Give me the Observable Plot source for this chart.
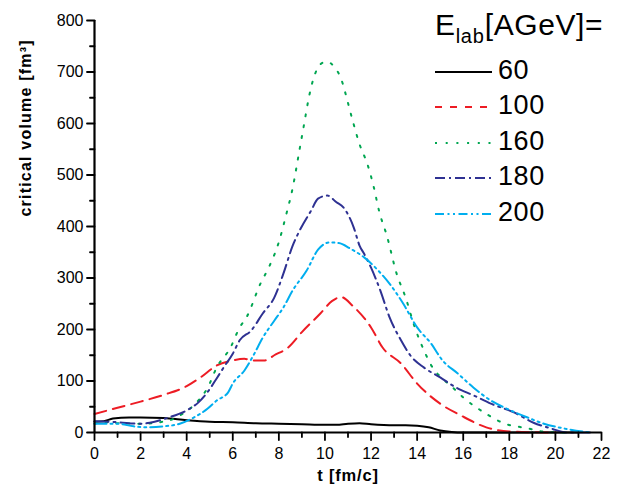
<!DOCTYPE html>
<html>
<head>
<meta charset="utf-8">
<script src="https://cdn.jsdelivr.net/npm/d3@7"></script>
<script src="https://cdn.jsdelivr.net/npm/@observablehq/plot@0.6"></script>
<style>
  html, body { margin: 0; padding: 0; background: #fff; }
  #wrap { position: relative; width: 626px; height: 494px; font-family: "Liberation Sans", Arial, sans-serif; }
  #legend { position: absolute; left: 435px; top: 0; }
  #legend .title { position: absolute; left: 0px; top: 9px; font-size: 30px; line-height: 31px; letter-spacing: 0.6px; white-space: nowrap; color: #000; }
  #legend .title sub { font-size: 20px; position: relative; top: 8px; vertical-align: baseline; line-height: 0; letter-spacing: 0.8px; }
  #legend .item { position: absolute; left: 0; height: 30px; white-space: nowrap; }
  #legend .item svg { position: absolute; left: 0; top: 0; }
  #legend .item span { position: absolute; left: 63px; top: -1px; font-size: 27px; line-height: 28px; letter-spacing: 0.6px; color: #000; }
</style>
</head>
<body>
<div id="wrap"></div>
<script>
// ---- data ----
const energies = ["60", "100", "160", "180", "200"];
const colors = ["#000000", "#ed1c24", "#00a651", "#2e3192", "#00aeef"];
const plotDashes = ["none", "12,7", "2,9", "14,5,2,5", "12,4,2,4,2,4"];
const legendDashes = ["none", "7,8", "2,8.7", "10,4,2,4", "9,3.5,2,3.5,2,3.5"];
const xTicks = [0, 2, 4, 6, 8, 10, 12, 14, 16, 18, 20, 22];
const yTicks = [0, 100, 200, 300, 400, 500, 600, 700, 800];
const xLabel = "t [fm/c]";
const yLabel = "critical volume [fm³]";

const t60 = [0, 0.4, 0.8, 1.5, 2, 3, 4, 5, 6, 7, 8, 9, 10, 10.5, 11, 11.5, 12, 13, 13.5, 14, 14.5, 15, 15.5, 16, 21];
const v60 = [21, 22, 27, 29, 29, 28, 24, 21, 20, 18, 17, 16, 15, 15, 17, 18, 16, 14, 14, 13, 10, 4, 1, 0, 0];

const t100 = [0, 1, 2, 3, 4, 4.6, 5.3, 6, 6.5, 6.9, 7.4, 7.8, 8.4, 9, 9.8, 10.3, 10.7, 11.2, 12, 12.5, 13.3, 14, 15, 15.9, 17, 18, 19, 20];
const v100 = [36, 48, 60, 73, 90, 107, 130, 140, 143, 140, 140, 150, 165, 195, 231, 255, 263, 246, 204, 165, 134, 95, 56, 33, 10, 2, 0.5, 0];

const t160 = [0, 0.5, 1, 2, 3.2, 3.7, 4.5, 4.9, 5.3, 5.9, 6.3, 6.6, 7.2, 7.6, 8.0, 8.3, 8.6, 8.9, 9.1, 9.3, 9.5, 9.7, 9.9, 10.1, 10.4, 10.7, 10.97, 11.2, 11.5, 11.85, 12.1, 12.35, 12.7, 13.1, 13.5, 13.9, 14.3, 14.7, 15.1, 15.6, 16, 16.9, 17.7, 18.8, 19.6, 20.5];
const v160 = [17, 20, 18, 17, 23, 33, 62, 86, 126, 165, 204, 224, 289, 324, 370, 420, 475, 550, 600, 650, 687, 709, 718, 720, 710, 687, 645, 606, 560, 520, 480, 430, 380, 310, 262, 204, 159, 124, 105, 85, 68, 39, 19, 8, 1, 0];

const t180 = [0, 1, 2, 2.4, 3.2, 4.0, 4.5, 4.9, 5.3, 5.6, 6.0, 6.3, 6.8, 7.3, 7.8, 8.2, 8.6, 8.9, 9.4, 9.7, 10.1, 10.5, 10.8, 11.25, 11.5, 11.7, 12.0, 12.4, 12.8, 13.3, 13.7, 14.3, 15, 15.7, 16.45, 17.2, 18.2, 19.05, 19.8, 20.5, 21.5];
const v180 = [22, 20, 17, 19, 29, 43, 58, 78, 105, 126, 153, 179, 198, 231, 262, 309, 363, 392, 431, 454, 460, 447, 437, 398, 363, 347, 320, 276, 224, 179, 150, 126, 107, 87, 72, 56, 39, 19, 8, 0, 0];

const t200 = [0, 1, 1.7, 2.3, 3, 3.7, 4.3, 4.9, 5.3, 5.8, 6.0, 6.5, 6.9, 7.3, 7.8, 8.2, 8.6, 9.2, 9.7, 10.2, 10.6, 11.1, 11.7, 12.3, 12.8, 13.4, 14, 14.6, 15.1, 15.75, 16.45, 17.2, 17.9, 18.8, 19.5, 20.35, 21.5];
const v200 = [17, 17, 12, 10, 12, 17, 29, 46, 62, 78, 95, 120, 150, 184, 217, 243, 276, 314, 355, 369, 368, 357, 340, 315, 289, 250, 204, 173, 140, 115, 87, 62, 46, 29, 17, 8, 0];

const seriesT = [t60, t100, t160, t180, t200];
const seriesV = [v60, v100, v160, v180, v200];

const rows = seriesT.flatMap((ts, i) => ts.map((t, j) => ({t, v: seriesV[i][j], e: energies[i]})));

const xMinor = d3.range(1, 22, 2);
const yMinor = d3.range(50, 800, 100);

const lineMarks = energies.map((e, i) =>
  Plot.line(rows.filter(d => d.e === e), {
    x: "t", y: "v", stroke: colors[i], strokeWidth: 2,
    strokeDasharray: plotDashes[i], curve: "monotone-x"
  })
);

// tick shape: a straight segment of given length
const spike = {draw(context, l) { context.moveTo(0, 0); context.lineTo(0, -l); }};
const tickV = (data, len, opts) => Plot.vector(data, {
  length: len, anchor: "start", shape: spike, stroke: "#000", strokeWidth: 1.8, ...opts
});

const chart = Plot.plot({
  width: 626, height: 494,
  marginLeft: 94, marginRight: 25, marginTop: 20, marginBottom: 62,
  style: {fontFamily: "'Liberation Sans', Arial, sans-serif", fontSize: "16px", color: "#000", background: "#fff", overflow: "visible"},
  x: {domain: [0, 22]},
  y: {domain: [0, 800]},
  marks: [
    ...lineMarks,
    // ticks (outward)
    tickV(xTicks, 7.5, {x: d => d, frameAnchor: "bottom", rotate: 180}),
    tickV(xMinor, 4.5, {x: d => d, frameAnchor: "bottom", rotate: 180}),
    tickV(yTicks, 7.5, {y: d => d, frameAnchor: "left", rotate: -90}),
    tickV(yMinor, 4.5, {y: d => d, frameAnchor: "left", rotate: -90}),
    // tick labels
    Plot.axisX({ticks: xTicks, tickSize: 0, tickPadding: 15, fontSize: 16, label: null}),
    Plot.axisY({ticks: yTicks, tickSize: 0, tickPadding: 11, fontSize: 16, label: null}),
    // axis titles
    Plot.text([xLabel], {text: d => d, frameAnchor: "bottom", dy: 48, fontSize: 16.5, fontWeight: "bold", fill: "#000"}),
    Plot.text([yLabel], {text: d => d, frameAnchor: "left", dx: -69, dy: -10, rotate: -90, fontSize: 16, fontWeight: "bold", fill: "#000"}),
    // axis lines
    Plot.ruleX([0], {stroke: "#000", strokeWidth: 2.2}),
    Plot.ruleY([0], {stroke: "#000", strokeWidth: 2.2})
  ]
});

// slightly wider letter spacing on the axis titles, as in the reference
d3.select(chart).selectAll('g[aria-label="text"] text')
  .attr("letter-spacing", function() { return this.textContent === yLabel ? "1.2px" : "0.8px"; });

const wrap = document.getElementById("wrap");
wrap.appendChild(chart);

// legend (HTML overlay)
const legend = document.createElement("div");
legend.id = "legend";
legend.innerHTML = `<div class="title">E<sub>lab</sub>[AGeV]=</div>`;
const itemTops = [57, 92, 128, 163, 199];
energies.forEach((e, i) => {
  const item = document.createElement("div");
  item.className = "item";
  item.style.top = itemTops[i] + "px";
  item.innerHTML = `<svg width="60" height="30"><line x1="0" x2="57" y1="15" y2="15" stroke="${colors[i]}" stroke-width="2" stroke-dasharray="${legendDashes[i]}"/></svg><span>${e}</span>`;
  legend.appendChild(item);
});
wrap.appendChild(legend);
</script>
</body>
</html>
